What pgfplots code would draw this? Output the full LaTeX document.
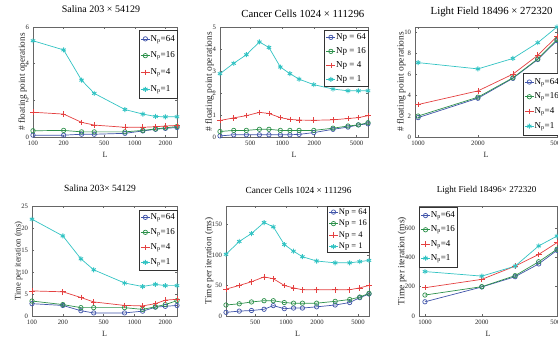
\documentclass[border=0pt]{standalone}
\usepackage{fontspec}
\setmainfont{Liberation Serif}
\usepackage{pgfplots}
\pgfplotsset{compat=1.18}
\definecolor{c64}{RGB}{65,85,170}
\definecolor{c16}{RGB}{45,145,75}
\definecolor{c4}{RGB}{228,65,65}
\definecolor{c1}{RGB}{50,195,195}
\pgfplotsset{
  myaxis/.style={
    scale only axis, height=110pt,
    axis line style={black!60, line width=0.5pt},
    tick style={black!60, line width=0.4pt},
    tick align=inside, major tick length=2pt, minor xtick={}, minor ytick={},
    ticklabel style={font=\fontsize{6.7}{7}\selectfont, text=black!85},
    xticklabel style={yshift=-0.5pt},
    yticklabel style={xshift=-0.5pt},
    label style={text=black!85},
    xlabel style={font=\fontsize{8}{8}\selectfont},
    title style={anchor=center},
    /pgf/number format/assume math mode=true,
    ymin=0,
    every axis plot/.append style={line width=0.7pt},
    legend cell align=left,
    legend style={font=\fontsize{9}{10}\selectfont, draw=black!80, line width=0.4pt,
      inner xsep=1.5pt, inner ysep=3pt, row sep=5pt,
      nodes={inner sep=0.5pt, text height=6.3pt, text depth=2pt}},
    legend image code/.code={\draw[mark repeat=2,mark phase=2] plot coordinates {(0pt,0pt)(4.5pt,0pt)(9pt,0pt)};},
    xlabel=L,
    xlabel style={at={(axis description cs:0.5,0)}, anchor=center, yshift=-18pt},
  },
  s64/.style={color=c64, mark=o, mark size=2.2pt},
  s16/.style={color=c16, mark=o, mark size=2.2pt},
  s4/.style={color=c4, mark=+, mark size=2.8pt},
  s1/.style={color=c1, mark=asterisk, mark size=2.5pt, mark options={line width=0.9pt}},
}
\begin{document}
\begin{tikzpicture}[x=1pt,y=1pt]
\path[use as bounding box] (0,0) rectangle (558,338);
\clip (0,0) rectangle (558,338);

% ---------- top left ----------
\begin{axis}[xmode=log, myaxis, at={(33pt,201pt)}, anchor=south west, width=144pt,
  xmin=100, xmax=2600, ymax=6,
  xtick={100,200,500,1000,2000}, xticklabels={100,200,500,1000,2000},
  ytick={0,2,4,6},
  ylabel={\# floating point operations},
  ylabel style={at={(axis description cs:-0.0729,0.5)}, anchor=center, font=\fontsize{9.2}{10}\selectfont},
  title={Salina 203 × 54129},
  title style={at={(axis description cs:0.472,1)}, yshift=12pt, font=\fontsize{10}{11}\selectfont},
  legend style={at={(axis description cs:1,1)}, anchor=north east, yshift=-3pt, row sep=7.5pt, inner ysep=4pt},
]
\addplot[s64] coordinates {(100,0.1)(200,0.1)(300,0.15)(400,0.15)(800,0.2)(1200,0.33)(1600,0.42)(2000,0.47)(2600,0.52)};
\addplot[s16] coordinates {(100,0.34)(200,0.36)(300,0.28)(400,0.28)(800,0.28)(1200,0.36)(1600,0.44)(2000,0.5)(2600,0.57)};
\addplot[s4] coordinates {(100,1.35)(200,1.25)(300,0.8)(400,0.65)(800,0.53)(1200,0.53)(1600,0.56)(2000,0.6)(2600,0.63)};
\addplot[s1] coordinates {(100,5.25)(200,4.75)(300,3.1)(400,2.38)(800,1.5)(1200,1.25)(1600,1.12)(2000,1.1)(2600,1.1)};
\legend{N\textsubscript{p}=64,N\textsubscript{p}=16,N\textsubscript{p}=4,N\textsubscript{p}=1}
\node[anchor=south west, font=\fontsize{6}{6}\selectfont, text=black!75, inner sep=0.5pt] at (rel axis cs:0,1) {$\times10^{8}$};
\end{axis}

% ---------- top middle ----------
\begin{axis}[xmode=log, myaxis, at={(220pt,201pt)}, anchor=south west, width=148pt,
  xmin=260, xmax=6400, ymax=5,
  xtick={500,1000,2000,5000}, xticklabels={500,1000,2000,5000},
  ytick={0,1,2,3,4,5},
  ylabel={\# floating point operations},
  ylabel style={at={(axis description cs:-0.0709,0.5)}, anchor=center, font=\fontsize{9.4}{10}\selectfont},
  title={Cancer Cells 1024 × 111296},
  title style={at={(axis description cs:0.56,1)}, yshift=7pt, font=\fontsize{10.8}{11}\selectfont},
  legend style={at={(axis description cs:1,1)}, anchor=north east, yshift=-3pt, row sep=4.7pt, inner ysep=2.5pt},
]
\addplot[s64] coordinates {(260,0.05)(350,0.1)(460,0.1)(610,0.1)(750,0.1)(960,0.1)(1180,0.1)(1440,0.12)(1980,0.2)(3000,0.35)(4150,0.45)(5200,0.55)(6400,0.6)};
\addplot[s16] coordinates {(260,0.25)(350,0.3)(460,0.3)(610,0.35)(750,0.35)(960,0.3)(1180,0.3)(1440,0.3)(1980,0.3)(3000,0.4)(4150,0.5)(5200,0.55)(6400,0.65)};
\addplot[s4] coordinates {(260,0.75)(350,0.87)(460,0.97)(610,1.12)(750,1.07)(960,0.88)(1180,0.8)(1440,0.77)(1980,0.76)(3000,0.78)(4150,0.84)(5200,0.88)(6400,0.97)};
\addplot[s1] coordinates {(260,2.88)(350,3.35)(460,3.74)(610,4.32)(750,4.07)(960,3.18)(1180,2.88)(1440,2.63)(1980,2.38)(3000,2.18)(4150,2.1)(5200,2.1)(6400,2.1)};
\legend{Np = 64,Np = 16,Np = 4,Np = 1}
\node[anchor=south west, font=\fontsize{6}{6}\selectfont, text=black!75, inner sep=0.5pt] at (rel axis cs:0,1) {$\times10^{7}$};
\end{axis}

% ---------- top right ----------
\begin{axis}[xmode=log, myaxis, at={(415pt,201pt)}, anchor=south west, width=142pt,
  xmin=965, xmax=5000, ymax=10.5,
  xtick={1000,2000,5000}, xticklabels={1000,2000,5000},
  ytick={0,2,4,6,8,10},
  ylabel={\# floating point operations},
  ylabel style={at={(axis description cs:-0.0972,0.5)}, anchor=center, font=\fontsize{9.4}{10}\selectfont},
  title={Light Field 18496 × 272320},
  title style={at={(axis description cs:0.54,1)}, yshift=9.5pt, font=\fontsize{10.8}{11}\selectfont},
  legend style={at={(axis description cs:1,0)}, anchor=south east, xshift=4pt, yshift=2pt, row sep=5.4pt, inner ysep=4pt},
]
\addplot[s64] coordinates {(1000,1.85)(2000,3.7)(3000,5.6)(4000,7.4)(5000,9.2)};
\addplot[s16] coordinates {(1000,2.0)(2000,3.8)(3000,5.65)(4000,7.45)(5000,9.3)};
\addplot[s4] coordinates {(1000,3.1)(2000,4.4)(3000,6.0)(4000,7.8)(5000,9.6)};
\addplot[s1] coordinates {(1000,7.1)(2000,6.5)(3000,7.5)(4000,9.0)(5000,10.5)};
\legend{N\textsubscript{p}=64,N\textsubscript{p}=16,N\textsubscript{p}=4,N\textsubscript{p}=1}
\node[anchor=south west, font=\fontsize{6}{6}\selectfont, text=black!75, inner sep=0.5pt] at (rel axis cs:0,1) {$\times10^{7}$};
\end{axis}

% ---------- bottom left ----------
\begin{axis}[xmode=log, myaxis, at={(32pt,22pt)}, anchor=south west, width=145pt,
  xmin=100, xmax=2600, ymax=25,
  xtick={100,200,500,1000,2000}, xticklabels={100,200,500,1000,2000},
  ytick={0,5,10,15,20,25},
  ylabel={Time per iteration (ms)},
  ylabel style={at={(axis description cs:-0.0931,0.5)}, anchor=center, font=\fontsize{8.6}{9}\selectfont},
  title={Salina 203× 54129},
  title style={at={(axis description cs:0.469,1)}, yshift=11.3pt, font=\fontsize{9.5}{10}\selectfont},
  legend style={at={(axis description cs:1,1)}, anchor=north east, yshift=-3.5pt, row sep=5.7pt, inner ysep=3pt},
]
\addplot[s64] coordinates {(100,2.8)(200,2.4)(300,1.2)(400,0.7)(800,0.7)(1200,1.1)(1600,2.0)(2000,2.2)(2600,2.4)};
\addplot[s16] coordinates {(100,3.4)(200,2.6)(300,1.9)(400,1.9)(800,1.9)(1200,1.5)(1600,2.1)(2000,2.6)(2600,3.5)};
\addplot[s4] coordinates {(100,5.7)(200,5.5)(300,4.2)(400,3.2)(800,2.4)(1200,2.3)(1600,2.8)(2000,3.6)(2600,3.8)};
\addplot[s1] coordinates {(100,22)(200,18.2)(300,13)(400,10.5)(800,7.5)(1200,6.7)(1600,7.2)(2000,6.9)(2600,6.9)};
\legend{N\textsubscript{p}=64,N\textsubscript{p}=16,N\textsubscript{p}=4,N\textsubscript{p}=1}
\end{axis}

% ---------- bottom middle ----------
\begin{axis}[xmode=log, myaxis, at={(226pt,22pt)}, anchor=south west, width=143pt,
  xmin=260, xmax=6400, ymax=180,
  xtick={500,1000,2000,5000}, xticklabels={500,1000,2000,5000},
  ytick={0,50,100,150},
  ylabel={Time per iteration (ms)},
  ylabel style={at={(axis description cs:-0.1175,0.5)}, anchor=center, font=\fontsize{9.3}{10}\selectfont},
  title={Cancer Cells 1024 × 111296},
  title style={at={(axis description cs:0.507,1)}, yshift=9.7pt, font=\fontsize{9.3}{10}\selectfont},
  legend style={at={(axis description cs:1,1)}, anchor=north east, yshift=0pt, row sep=2.7pt, inner ysep=1.5pt,
    font=\fontsize{8.5}{9}\selectfont, nodes={text height=6pt, text depth=1.8pt}},
]
\addplot[s64] coordinates {(260,6)(350,8)(460,9)(610,11)(750,17)(960,12)(1180,13)(1440,13)(1980,15)(3000,18)(4150,22)(5200,30)(6400,36)};
\addplot[s16] coordinates {(260,18)(350,20)(460,23)(610,25)(750,25)(960,22)(1180,21)(1440,21)(1980,21)(3000,24)(4150,27)(5200,31)(6400,37)};
\addplot[s4] coordinates {(260,44)(350,50)(460,56)(610,64)(750,61)(960,50)(1180,46)(1440,43)(1980,43)(3000,43)(4150,43)(5200,46)(6400,50)};
\addplot[s1] coordinates {(260,101)(350,122)(460,135)(610,153)(750,146)(960,117)(1180,106)(1440,97)(1980,90)(3000,87)(4150,87)(5200,89)(6400,91)};
\legend{Np = 64,Np = 16,Np = 4,Np = 1}
\end{axis}

% ---------- bottom right ----------
\begin{axis}[xmode=log, myaxis, at={(419pt,22pt)}, anchor=south west, width=138pt,
  xmin=930, xmax=5000, ymax=750,
  xtick={1000,2000,5000}, xticklabels={1000,2000,5000},
  ytick={0,200,400,600},
  ylabel={Time per iteration (ms)},
  ylabel style={at={(axis description cs:-0.1232,0.5)}, anchor=center, font=\fontsize{9.5}{10}\selectfont},
  title={Light Field 18496× 272320},
  title style={at={(axis description cs:0.49,1)}, yshift=9.7pt, font=\fontsize{9}{10}\selectfont},
  legend style={at={(axis description cs:0,1)}, anchor=north west, yshift=-0.7pt, row sep=4.9pt, inner ysep=4pt},
]
\addplot[s64] coordinates {(1000,97)(2000,198)(3000,268)(4000,355)(5000,448)};
\addplot[s16] coordinates {(1000,143)(2000,200)(3000,275)(4000,370)(5000,455)};
\addplot[s4] coordinates {(1000,193)(2000,250)(3000,340)(4000,420)(5000,500)};
\addplot[s1] coordinates {(1000,303)(2000,272)(3000,340)(4000,478)(5000,545)};
\legend{N\textsubscript{p}=64,N\textsubscript{p}=16,N\textsubscript{p}=4,N\textsubscript{p}=1}
\end{axis}
\end{tikzpicture}
\end{document}
